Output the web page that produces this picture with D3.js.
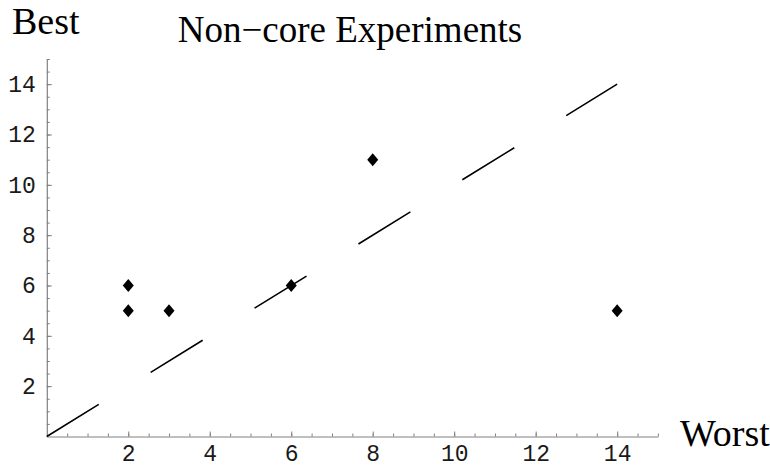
<!DOCTYPE html>
<html>
<head>
<meta charset="utf-8">
<script src="https://cdn.jsdelivr.net/npm/d3@7"></script>
<style>
  body { margin: 0; background: #fff; }
  svg { display: block; }
</style>
</head>
<body>
<div id="chart"></div>
<script>
// worst vs best per experiment
const worst = [2, 2, 3, 6, 8, 14];
const best = [6, 5, 5, 6, 11, 5];
const xTicks = [2, 4, 6, 8, 10, 12, 14];
const yTicks = [2, 4, 6, 8, 10, 12, 14];
const diagonal = [0, 14];

const width = 770;
const height = 467;

const svg = d3.select("#chart").append("svg")
  .attr("width", width)
  .attr("height", height);

const x = d3.scaleLinear().domain([0, 15]).range([46.8, 657.9]);
const y = d3.scaleLinear().domain([0, 15]).range([436.5, 59]);

const minor = d3.range(0.5, 15.01, 0.5);

// minor ticks
svg.append("g")
  .attr("transform", `translate(0,${y(0)})`)
  .call(d3.axisBottom(x).tickValues(minor).tickSize(-3).tickSizeOuter(0).tickFormat(""))
  .call(g => g.select(".domain").remove());
svg.append("g")
  .attr("transform", `translate(${x(0)},0)`)
  .call(d3.axisLeft(y).tickValues(minor).tickSize(-3).tickSizeOuter(0).tickFormat(""))
  .call(g => g.select(".domain").remove());

// major ticks + labels
svg.append("g")
  .attr("transform", `translate(0,${y(0)})`)
  .call(d3.axisBottom(x).tickValues(xTicks).tickSize(-5).tickSizeOuter(0).tickPadding(8));
svg.append("g")
  .attr("transform", `translate(${x(0)},0)`)
  .call(d3.axisLeft(y).tickValues(yTicks).tickSize(-5).tickSizeOuter(0).tickPadding(11));

svg.selectAll(".tick line").attr("stroke", "#808080");
svg.selectAll(".domain").attr("stroke", "#808080").attr("stroke-width", 1.2);
svg.selectAll(".tick text")
  .attr("font-family", "Liberation Mono, monospace")
  .attr("font-size", 23)
  .attr("fill", "#1a1a1a");

// dashed diagonal
const len = Math.hypot(x(1.275) - x(0), y(0) - y(1.275));
svg.append("line")
  .attr("x1", x(diagonal[0])).attr("y1", y(diagonal[0]))
  .attr("x2", x(diagonal[1])).attr("y2", y(diagonal[1]))
  .attr("stroke", "#000")
  .attr("stroke-width", 1.6)
  .attr("stroke-dasharray", `${len} ${len}`);

// diamonds
svg.append("g")
  .selectAll("path")
  .data(worst.map((w, i) => [w, best[i]]))
  .join("path")
    .attr("transform", d => `translate(${x(d[0])},${y(d[1])})`)
    .attr("d", "M0,-6.5L5.5,0L0,6.5L-5.5,0Z")
    .attr("fill", "#000");

// labels
const serif = "Liberation Serif, Times New Roman, serif";
svg.append("text")
  .attr("x", 350).attr("y", 42)
  .attr("text-anchor", "middle")
  .attr("font-family", serif).attr("font-size", 37)
  .text("Non\u2212core Experiments");
svg.append("text")
  .attr("x", 12).attr("y", 34)
  .attr("font-family", serif).attr("font-size", 38)
  .text("Best");
svg.append("text")
  .attr("x", 680).attr("y", 446)
  .attr("font-family", serif).attr("font-size", 38)
  .text("Worst");
</script>
</body>
</html>
